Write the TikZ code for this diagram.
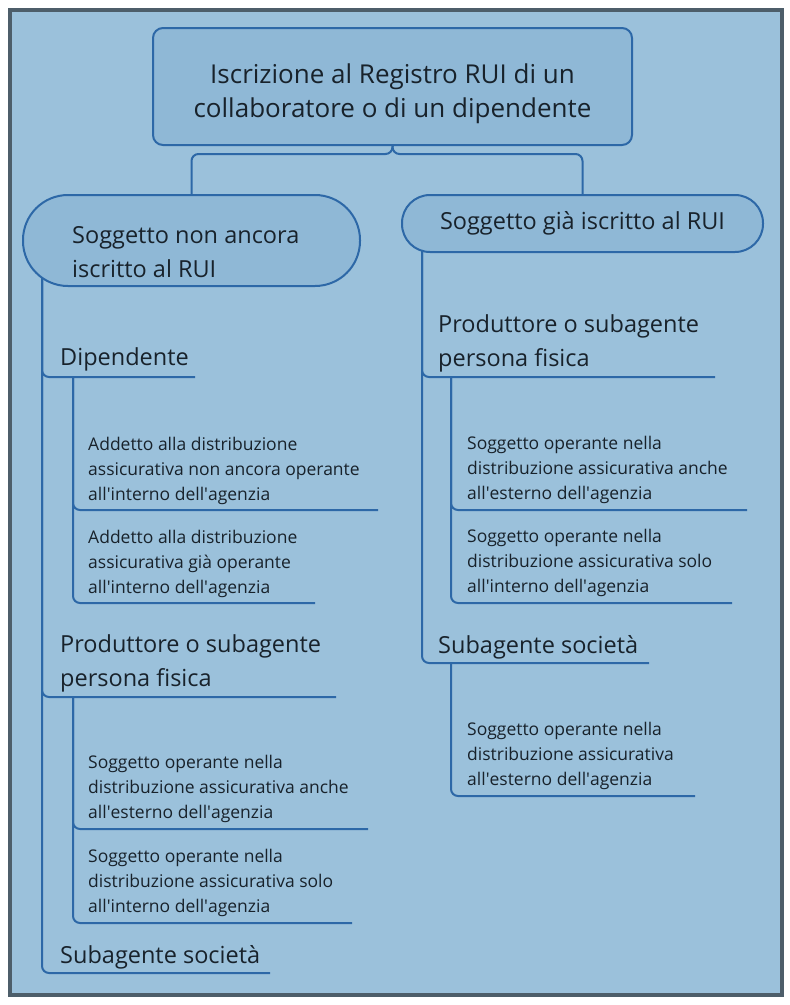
\documentclass[tikz,border=0pt]{standalone}
\usepackage{fontspec}
\setmainfont{Open Sans}
\usetikzlibrary{calc}
\definecolor{bgblue}{HTML}{9BC1DB}
\definecolor{boxblue}{HTML}{8FB8D6}
\definecolor{linkblue}{HTML}{2D68A7}
\definecolor{framegrey}{HTML}{4D5E6A}
\definecolor{ink}{HTML}{18222B}
\newcommand{\aps}{\textquotesingle}
\pgfdeclarelayer{framelayer}
\pgfdeclarelayer{links}
\pgfsetlayers{framelayer,links,main}
\begin{document}
\begin{tikzpicture}[x=1pt,y=-1pt,
  every node/.style={text=ink},
  conn/.style={draw=linkblue, line width=2pt, rounded corners=7pt},
  boxshape/.style={draw=linkblue, line width=2pt, fill=boxblue, inner sep=0pt},
  big/.style={font=\fontsize{26}{34}\selectfont, align=center, inner sep=0pt},
  mid/.style={font=\fontsize{23.5}{34}\selectfont, align=left, inner sep=0pt},
  small/.style={font=\fontsize{17.5}{25}\selectfont, align=left, inner sep=0pt},
]
\useasboundingbox (0,0) rectangle (790,1005);
\begin{pgfonlayer}{framelayer}
  \fill[white] (0,0) rectangle (790,1005);
  \filldraw[fill=bgblue, draw=framegrey, line width=4.5pt] (10,10) rectangle (782,995);
\end{pgfonlayer}

% main boxes
\node[boxshape, rounded corners=10pt, minimum width=479pt, minimum height=117pt]
  (title) at (392.5,86.5) {};
\node[big, anchor=base] (titleT) at (392.5,117)
  {Iscrizione al Registro RUI di un\\collaboratore o di un dipendente};
\node[boxshape, minimum width=337pt, minimum height=91pt, rounded corners=45pt]
  (pillL) at (191.5,240.5) {};
\node[mid, anchor=base west] (pillLT) at (72,277) {Soggetto non ancora\\iscritto al RUI};
\node[boxshape, mid, align=center, minimum width=361pt, minimum height=57pt,
  rounded corners=28pt] (pillR) at (582.5,223.5) {\raisebox{-2pt}{Soggetto già iscritto al RUI}};

% left branch labels (base = last line baseline)
\node[mid, anchor=base west] (dipL) at (60,365) {Dipendente};
\node[small, anchor=base west] (a1) at (88,500)
  {Addetto alla distribuzione\\assicurativa non ancora operante\\all\aps interno dell\aps agenzia};
\node[small, anchor=base west] (a2) at (88,593)
  {Addetto alla distribuzione\\assicurativa già operante\\all\aps interno dell\aps agenzia};
\node[mid, anchor=base west] (prodL) at (60,686) {Produttore o subagente\\persona fisica};
\node[small, anchor=base west] (p1) at (88,818)
  {Soggetto operante nella\\distribuzione assicurativa anche\\all\aps esterno dell\aps agenzia};
\node[small, anchor=base west] (p2) at (88,912)
  {Soggetto operante nella\\distribuzione assicurativa solo\\all\aps interno dell\aps agenzia};
\node[mid, anchor=base west] (subL) at (60,963) {Subagente società};

% right branch labels
\node[mid, anchor=base west] (prodR) at (438,366) {Produttore o subagente\\persona fisica};
\node[small, anchor=base west] (r1) at (467,499)
  {Soggetto operante nella\\distribuzione assicurativa anche\\all\aps esterno dell\aps agenzia};
\node[small, anchor=base west] (r2) at (467,592)
  {Soggetto operante nella\\distribuzione assicurativa solo\\all\aps interno dell\aps agenzia};
\node[mid, anchor=base west] (subR) at (438,653) {Subagente società};
\node[small, anchor=base west] (s1) at (467,785)
  {Soggetto operante nella\\distribuzione assicurativa\\all\aps esterno dell\aps agenzia};

% connector points
\coordinate (tL) at ($(pillL.west)+(20,0)$);
\coordinate (tR) at ($(pillR.west)+(21,0)$);
\coordinate (dipE) at (195,377);
\coordinate (a1E) at (378,510);
\coordinate (a2E) at (315,603);
\coordinate (prodLE) at (336,697);
\coordinate (p1E) at (368,829);
\coordinate (p2E) at (352,923);
\coordinate (subLE) at (270,973);
\coordinate (prodRE) at (715,377);
\coordinate (r1E) at (747,510);
\coordinate (r2E) at (732,603);
\coordinate (subRE) at (649,663);
\coordinate (s1E) at (695,796);
\coordinate (sdL) at ($(tL |- dipE)+(31,0)$);
\coordinate (spL) at ($(tL |- prodLE)+(31,0)$);
\coordinate (spR) at ($(tR |- prodRE)+(29,0)$);
\coordinate (ssR) at ($(tR |- subRE)+(29,0)$);

\begin{pgfonlayer}{links}
  \draw[conn] (title.south) -- ++(0,8) -| (pillL.north);
  \draw[conn] (title.south) -- ++(0,8) -| (pillR.north);
  \draw[conn] (tL) |- (dipE);
  \draw[conn] (tL) |- (prodLE);
  \draw[conn] (tL) |- (subLE);
  \draw[conn] (sdL) |- (a1E);
  \draw[conn] (sdL) |- (a2E);
  \draw[conn] (spL) |- (p1E);
  \draw[conn] (spL) |- (p2E);
  \draw[conn] (tR) |- (prodRE);
  \draw[conn] (tR) |- (subRE);
  \draw[conn] (spR) |- (r1E);
  \draw[conn] (spR) |- (r2E);
  \draw[conn] (ssR) |- (s1E);
\end{pgfonlayer}
\end{tikzpicture}
\end{document}
